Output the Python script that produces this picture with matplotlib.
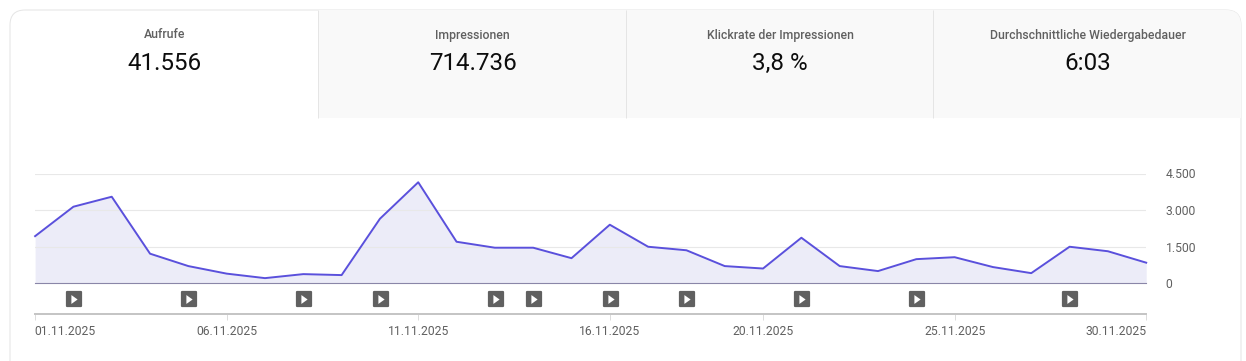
import matplotlib
matplotlib.use("Agg")
import matplotlib.pyplot as plt
from matplotlib.patches import FancyBboxPatch, Rectangle
from matplotlib.markers import MarkerStyle
from matplotlib.ticker import FuncFormatter
from matplotlib.transforms import ScaledTranslation

W, H = 1246, 361
plt.rcParams['font.family'] = ['Roboto', 'DejaVu Sans']

tab_titles = ["Aufrufe", "Impressionen", "Klickrate der Impressionen", "Durchschnittliche Wiedergabedauer"]
tab_values = ["41.556", "714.736", "3,8 %", "6:03"]
views = [1925, 3135, 3545, 1205, 695, 385, 200, 365, 325, 2640,
         4140, 1695, 1450, 1450, 1020, 2395, 1490, 1345, 695, 595,
         1860, 695, 490, 980, 1060, 655, 405, 1490, 1305, 835]
days = list(range(len(views)))
y_ticks = [0, 1500, 3000, 4500]
x_ticks = [0, 5, 10, 15, 19, 24, 29]
x_labels = ["01.11.2025", "06.11.2025", "11.11.2025", "16.11.2025", "20.11.2025", "25.11.2025", "30.11.2025"]
video_days = [1, 4, 7, 9, 12, 13, 15, 17, 20, 23, 27]

fig = plt.figure(figsize=(W / 100, H / 100), dpi=100, facecolor="white")

def axes_px(x0, y0, x1, y1, **kw):
    return fig.add_axes([x0 / W, 1 - y1 / H, (x1 - x0) / W, (y1 - y0) / H], **kw)

# Card and tabs, in pixel coordinates
bg = axes_px(0, 0, W, H)
bg.set_xlim(0, W); bg.set_ylim(H, 0); bg.axis("off")
card = FancyBboxPatch((10, 10), 1231, 400, boxstyle="round,pad=0,rounding_size=15",
                      fc="white", ec="#e5e5e5", lw=0.72, zorder=1)
bg.add_patch(card)
edges = [10, 318, 626, 933, 1241]
for i in range(4):
    if i > 0:
        r = Rectangle((edges[i], 10), edges[i + 1] - edges[i], 108, fc="#f9f9f9", ec="none", zorder=2)
        bg.add_patch(r)
        r.set_clip_path(card)
        bg.plot([edges[i]] * 2, [10, 118], color="#e5e5e5", lw=0.72, zorder=3, solid_capstyle="butt")
    c = (edges[i] + edges[i + 1]) / 2 + 0.5
    bg.text(c, 35, tab_titles[i], ha="center", va="center", fontsize=8.8, color="#606060",
            fontweight="medium", zorder=4)
    bg.text(c, 63, tab_values[i], ha="center", va="center", fontsize=17.4, color="#0d0d0d", zorder=4)

# Main chart
ax = axes_px(35.1, 173.5, 1146.2, 283)
ax.patch.set_alpha(0)
ax.set_xlim(0, days[-1]); ax.set_ylim(0, 4500)
ax.fill_between(days, views, 0, color="#ececf8", lw=0, zorder=1)
ax.plot(days, views, color="#5a50dc", lw=1.4, zorder=3, solid_joinstyle="round", clip_on=False)
for s in ax.spines.values():
    s.set_visible(False)
ax.spines["bottom"].set_visible(True)
ax.spines["bottom"].set_color("#8a86a8")
ax.spines["bottom"].set_linewidth(0.8)
ax.grid(axis="y", color="#e8e8e8", lw=0.8, zorder=2)
ax.set_axisbelow(False)
ax.set_xticks([])
ax.yaxis.tick_right()
ax.set_yticks(y_ticks)
ax.yaxis.set_major_formatter(FuncFormatter(lambda v, _: f"{int(v):,}".replace(",", ".")))
ax.tick_params(axis="y", length=0, pad=14, labelsize=8.7, labelcolor="#606060")

# Timeline with video markers
tl = axes_px(35.1, 284, 1146.2, 314)
tl.patch.set_alpha(0)
tl.set_xlim(0, days[-1]); tl.set_ylim(30, 0)
for s in tl.spines.values():
    s.set_visible(False)
tl.spines["bottom"].set_visible(True)
tl.spines["bottom"].set_color("#c4c4c4")
tl.spines["bottom"].set_linewidth(1.4)
tl.set_yticks([])
tl.set_xticks(x_ticks)
tl.set_xticklabels(x_labels)
tl.tick_params(axis="x", length=4, width=0.72, color="#dcdcdc", pad=4.2, labelsize=8.7, labelcolor="#606060")
labels = tl.get_xticklabels()
labels[0].set_ha("left")
labels[0].set_transform(labels[0].get_transform() + ScaledTranslation(-0.8 / 100, 0, fig.dpi_scale_trans))
labels[-1].set_ha("right")
marker_y = [14.5] * len(video_days)
nudge = tl.transData + ScaledTranslation(0.8 / 100, 0, fig.dpi_scale_trans)
tl.plot(video_days, marker_y, ls="none", marker=MarkerStyle("s", joinstyle="round"), ms=9.6,
        mfc="#606060", mec="#606060", mew=1.6, zorder=3, clip_on=False, transform=nudge)
play_shape = [(-0.7, -1), (0.7, 0), (-0.7, 1), (-0.7, -1)]
tl.plot(video_days, marker_y, ls="none", marker=play_shape, ms=6.4,
        mfc="white", mec="none", zorder=4, clip_on=False, transform=nudge)

fig.savefig("out.png", dpi=100, facecolor="white")
